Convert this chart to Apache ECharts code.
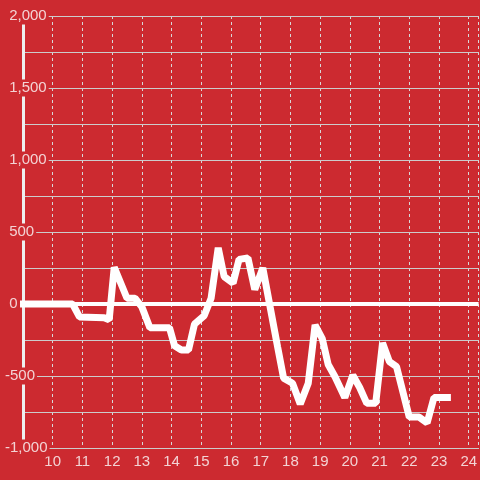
<!DOCTYPE html>
<html>
<head>
<meta charset="utf-8">
<script src="https://cdn.jsdelivr.net/npm/echarts@6/dist/echarts.min.js"></script>
<style>html,body{margin:0;padding:0;background:#cc2a30;}#c{width:480px;height:480px;}</style>
</head>
<body>
<div id="c"></div>
<script>
var hours = [8.9, 10.67, 10.9, 11.73, 11.9, 12.07, 12.5, 12.77, 13.0, 13.27, 13.93, 14.1, 14.33, 14.57, 14.77, 15.1, 15.33, 15.57, 15.77, 16.07, 16.27, 16.57, 16.8, 17.07, 17.57, 17.77, 18.07, 18.33, 18.6, 18.83, 19.07, 19.27, 19.5, 19.83, 20.1, 20.33, 20.57, 20.87, 21.1, 21.33, 21.57, 22.0, 22.33, 22.6, 22.83, 23.4];
var values = [0, 0, -90, -95, -110, 255, 40, 40, -20, -165, -165, -290, -320, -320, -140, -80, 40, 390, 190, 145, 310, 320, 100, 250, -300, -515, -550, -695, -550, -146, -240, -420, -505, -650, -495, -580, -690, -690, -270, -400, -435, -785, -785, -825, -650, -650];
var yTicks = [-1000, -500, 0, 500, 1000, 1500, 2000];

var bg = '#cc2a30';
var font = 'Liberation Sans, Arial, sans-serif';
var data = hours.map(function (h, i) { return [h, values[i]]; });

var chart = echarts.init(document.getElementById('c'));
chart.setOption({
  backgroundColor: bg,
  animation: false,
  grid: { left: 20, right: 0, top: 16, bottom: 32, containLabel: false },
  xAxis: {
    type: 'value', min: 9, max: 24 + 1 / 3, interval: 1, z: 0,
    axisLine: { show: true, onZero: false, lineStyle: { color: '#cccccc', width: 1 } },
    axisTick: { show: false },
    axisLabel: { showMinLabel: false, showMaxLabel: false, margin: 6, color: '#f3d3d4', fontSize: 15, fontFamily: font,
      formatter: function (v) { return String(v); } },
    splitLine: { show: true, lineStyle: { color: '#d8d8d8', type: [3, 3], width: 1 } }
  },
  yAxis: {
    type: 'value', min: yTicks[0], max: yTicks[yTicks.length - 1], interval: 500, z: 1,
    axisLine: { show: true, onZero: false, lineStyle: { color: '#eeeeee', width: 3 } },
    axisTick: { show: false },
    minorTick: { show: false, splitNumber: 2 },
    minorSplitLine: { show: true, lineStyle: { color: '#cccccc', width: 1 } },
    splitLine: { show: true, lineStyle: { color: '#cccccc', width: 1 } },
    axisLabel: {
      align: 'left', margin: 20, color: '#f3d3d4', fontSize: 15, fontFamily: font,
      backgroundColor: bg, padding: [1, 2],
      formatter: function (v) {
        var s = Math.abs(v).toLocaleString('en-US');
        return v < 0 ? '-' + s : ' ' + s;
      }
    }
  },
  series: [{
    type: 'line', data: data, symbol: 'none', clip: false, z: 2,
    lineStyle: { color: '#ffffff', width: 7, join: 'bevel' },
    markLine: {
      silent: true, symbol: 'none', label: { show: false },
      lineStyle: { color: '#ffffff', width: 4, type: 'solid' },
      data: [{ yAxis: 0 }]
    }
  }]
});
</script>
</body>
</html>
